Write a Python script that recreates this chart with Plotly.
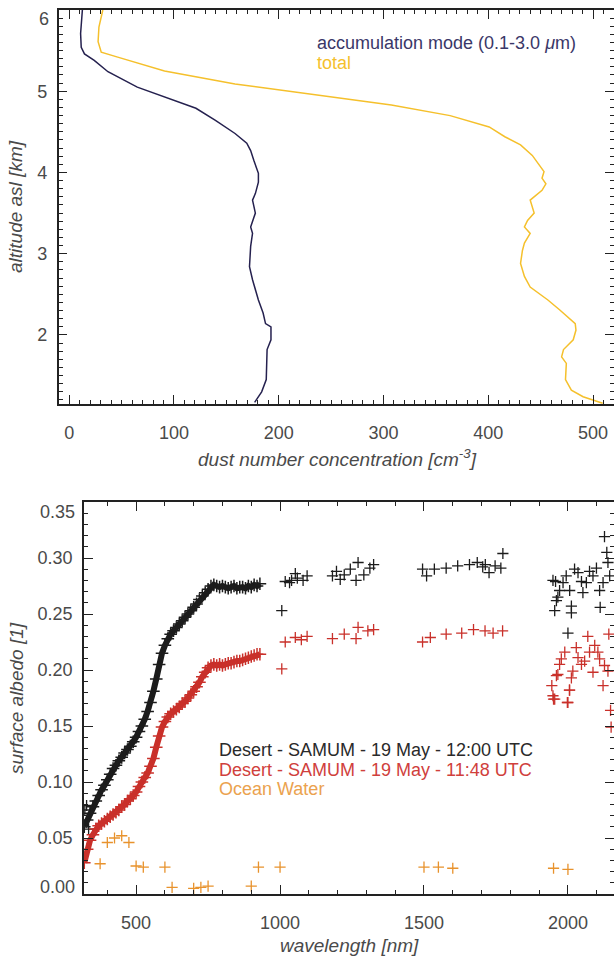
import plotly.graph_objects as go

W, H = 614, 959

# ---------------- top panel data (altitude profile) ----------------
acc_alt = [6.00, 5.71, 5.54, 5.46, 5.38, 5.24, 5.05, 4.93, 4.79, 4.64, 4.48, 4.36, 4.27, 4.15,
           3.99, 3.88, 3.74, 3.66, 3.50, 3.33, 3.25, 3.09, 2.84, 2.68, 2.43, 2.27, 2.14, 2.10,
           1.94, 1.82, 1.45, 1.30, 1.17]
acc_conc = [12.6, 10.9, 11.5, 14.6, 23.9, 37.0, 65.0, 91.0, 121.0, 139.6, 158.3, 169.5, 173.2, 176.2,
            180.6, 180.6, 177.7, 175.0, 177.7, 173.2, 175.0, 173.2, 172.1, 175.0, 180.6, 185.1, 187.4, 192.6,
            192.6, 188.9, 188.1, 183.7, 177.0]

tot_alt = [6.00, 5.79, 5.61, 5.48, 5.42, 5.25, 5.09, 4.96, 4.83, 4.70, 4.56, 4.44, 4.34, 4.21,
           4.01, 3.93, 3.86, 3.78, 3.70, 3.66, 3.50, 3.41, 3.33, 3.25, 3.13, 3.04, 2.88, 2.72,
           2.59, 2.43, 2.31, 2.23, 2.14, 2.06, 1.94, 1.82, 1.73, 1.65, 1.45, 1.32, 1.24, 1.16]
tot_conc = [32.1, 28.4, 27.6, 30.6, 46.3, 91.0, 158.3, 232.9, 307.5, 363.6, 400.9, 415.8, 430.8, 442.0,
            453.2, 451.3, 455.0, 451.3, 443.8, 440.0, 443.8, 437.5, 434.5, 440.0, 434.5, 432.6, 430.8, 434.5,
            440.0, 456.9, 468.0, 475.5, 483.0, 483.7, 481.1, 471.8, 470.0, 474.5, 473.7, 479.3, 490.5, 509.2]

alt_ticks = [2, 3, 4, 5, 6]
alt_ticktext = ["2", "3", "4", "5", ""]   # top label "6" drawn slightly below the edge, as in the original

# ---------------- bottom panel data (surface albedo) ----------------
wl_dense = [320, 330, 340, 350, 360, 370, 380, 390, 400, 410, 420, 430, 440, 450, 460, 470, 480, 490,
            500, 510, 520, 530, 540, 550, 560, 570, 580, 590, 600, 610, 620, 630, 640, 650, 660, 670,
            680, 690, 700, 710, 720, 730, 740, 750, 760, 770, 780, 790, 800, 810, 820, 830, 840, 850,
            860, 870, 880, 890, 900, 910, 920, 930]
desert12_dense = [0.060, 0.066, 0.072, 0.078, 0.083, 0.088, 0.093, 0.097, 0.102, 0.107, 0.112, 0.115,
                  0.119, 0.122, 0.126, 0.129, 0.132, 0.136, 0.140, 0.145, 0.150, 0.156, 0.163, 0.171,
                  0.181, 0.192, 0.205, 0.215, 0.222, 0.228, 0.232, 0.235, 0.238, 0.241, 0.244, 0.247,
                  0.250, 0.253, 0.256, 0.259, 0.263, 0.266, 0.269, 0.272, 0.275, 0.276, 0.275, 0.274,
                  0.275, 0.274, 0.273, 0.274, 0.275, 0.273, 0.274, 0.274, 0.273, 0.275, 0.274, 0.276,
                  0.275, 0.277]
desert1148_dense = [0.028, 0.040, 0.048, 0.053, 0.058, 0.061, 0.063, 0.065, 0.067, 0.069, 0.071, 0.073,
                    0.075, 0.078, 0.080, 0.083, 0.085, 0.088, 0.091, 0.096, 0.100, 0.104, 0.108, 0.114,
                    0.121, 0.131, 0.141, 0.149, 0.154, 0.158, 0.161, 0.163, 0.165, 0.167, 0.170, 0.172,
                    0.175, 0.178, 0.181, 0.185, 0.189, 0.194, 0.198, 0.202, 0.204, 0.205, 0.204, 0.205,
                    0.204, 0.205, 0.206, 0.206, 0.207, 0.208, 0.208, 0.209, 0.210, 0.211, 0.212, 0.213,
                    0.214, 0.214]

wl12_sparse = [322, 328, 335, 1006, 1018, 1033, 1040, 1053, 1060, 1080, 1094, 1182, 1196, 1209, 1223, 1244,
               1264, 1271, 1291, 1312, 1325, 1495, 1509, 1536, 1577, 1617, 1658, 1685, 1704, 1713, 1726,
               1747, 1767, 1774, 1948, 1954, 1957, 1960, 1965, 1971, 1983, 1994, 2000, 2006, 2012, 2012,
               2023, 2035, 2047, 2052, 2064, 2075, 2087, 2099, 2110, 2112, 2122, 2127, 2135, 2139, 2145]
alb12_sparse = [0.075, 0.079, 0.058, 0.253, 0.279, 0.278, 0.280, 0.286, 0.282, 0.280, 0.284, 0.284, 0.288,
                0.281, 0.285, 0.290, 0.280, 0.296, 0.285, 0.291, 0.294, 0.290, 0.284, 0.290, 0.291, 0.293,
                0.294, 0.296, 0.292, 0.294, 0.287, 0.293, 0.291, 0.304, 0.280, 0.253, 0.279, 0.262, 0.265,
                0.271, 0.278, 0.284, 0.233, 0.271, 0.257, 0.251, 0.290, 0.287, 0.279, 0.269, 0.278, 0.288,
                0.284, 0.291, 0.271, 0.256, 0.278, 0.319, 0.305, 0.296, 0.284]

wl1148_sparse = [1006, 1018, 1053, 1074, 1094, 1182, 1223, 1264, 1271, 1305, 1325, 1495, 1522, 1577, 1631,
                 1672, 1712, 1740, 1773, 1944, 1948, 1950, 1954, 1960, 1965, 1971, 1977, 1989, 1998, 2000,
                 2005, 2006, 2012, 2017, 2029, 2035, 2047, 2058, 2069, 2075, 2087, 2093, 2104, 2110, 2122,
                 2127, 2139, 2142, 2148, 2150]
alb1148_sparse = [0.201, 0.225, 0.229, 0.227, 0.230, 0.228, 0.232, 0.228, 0.238, 0.235, 0.236, 0.225, 0.229,
                  0.232, 0.233, 0.236, 0.235, 0.233, 0.235, 0.186, 0.177, 0.174, 0.174, 0.195, 0.196, 0.205,
                  0.210, 0.216, 0.171, 0.171, 0.182, 0.182, 0.193, 0.199, 0.220, 0.211, 0.205, 0.208, 0.230,
                  0.216, 0.198, 0.222, 0.216, 0.210, 0.186, 0.204, 0.199, 0.232, 0.164, 0.149]

wl_ocean = [375, 400, 425, 450, 475, 500, 525, 600, 625, 700, 725, 750, 900, 925, 1000, 1500, 1550, 1600,
            1950, 2000]
alb_ocean = [0.027, 0.046, 0.050, 0.052, 0.046, 0.025, 0.024, 0.024, 0.006, 0.005, 0.006, 0.007, 0.007,
             0.024, 0.024, 0.024, 0.024, 0.023, 0.023, 0.022]

alb_ticks = [0.0, 0.05, 0.10, 0.15, 0.20, 0.25, 0.30, 0.35]
alb_ticktext = ["", "0.05", "0.10", "0.15", "0.20", "0.25", "0.30", ""]  # edge labels drawn inset

# ---------------- styling ----------------
FONT = "Liberation Sans, Arial, Helvetica, sans-serif"
NAVY = "#25214f"
YELLOW = "#f5c02c"
BLACK = "#1c1c1c"
RED = "#c9302a"
ORANGE = "#e8922c"
AX = "#222222"
TXT = "#4a4a4a"


def px(x):
    return x / W


def py(y):
    return 1 - y / H


fig = go.Figure()

fig.add_trace(go.Scatter(x=acc_conc, y=acc_alt, mode="lines", line=dict(color=NAVY, width=1.5),
                         xaxis="x", yaxis="y", showlegend=False))
fig.add_trace(go.Scatter(x=tot_conc, y=tot_alt, mode="lines", line=dict(color=YELLOW, width=1.5),
                         xaxis="x", yaxis="y", showlegend=False))

mk = dict(symbol="cross-thin", size=9)
fig.add_trace(go.Scatter(x=wl_dense, y=desert12_dense, mode="lines+markers",
                         line=dict(color=BLACK, width=6),
                         marker=dict(**mk, line=dict(color=BLACK, width=1.5)),
                         xaxis="x2", yaxis="y2", showlegend=False))
fig.add_trace(go.Scatter(x=wl12_sparse, y=alb12_sparse, mode="markers",
                         marker=dict(symbol="cross-thin", size=8, line=dict(color=BLACK, width=1.3)),
                         xaxis="x2", yaxis="y2", showlegend=False))
fig.add_trace(go.Scatter(x=wl_dense, y=desert1148_dense, mode="lines+markers",
                         line=dict(color=RED, width=6),
                         marker=dict(**mk, line=dict(color=RED, width=1.5)),
                         xaxis="x2", yaxis="y2", showlegend=False))
fig.add_trace(go.Scatter(x=wl1148_sparse, y=alb1148_sparse, mode="markers",
                         marker=dict(symbol="cross-thin", size=8, line=dict(color=RED, width=1.3)),
                         xaxis="x2", yaxis="y2", showlegend=False))
fig.add_trace(go.Scatter(x=wl_ocean, y=alb_ocean, mode="markers",
                         marker=dict(symbol="cross-thin", size=8, line=dict(color=ORANGE, width=1.3)),
                         xaxis="x2", yaxis="y2", showlegend=False))

tickfont = dict(family=FONT, size=18, color=TXT)


def axis(domain, rng, dtick, mdtick, anchor):
    return dict(domain=domain, range=rng, dtick=dtick, tick0=0, anchor=anchor, automargin=False,
                showgrid=False, zeroline=False, showline=True, linecolor=AX, linewidth=1.5,
                mirror="ticks", ticks="inside", ticklen=9, tickwidth=1.3, tickcolor=AX,
                tickfont=tickfont,
                minor=dict(dtick=mdtick, tick0=0, ticks="inside", ticklen=4.5, tickwidth=1.1,
                           tickcolor=AX, showgrid=False))


L1, R1, T1, B1 = 58.7, 614, 10, 404
L2, R2, T2, B2 = 84, 614, 502, 894

yax1 = axis([py(B1), py(T1)], [1.15, 6.0], 1, 0.1, "x")
yax1.update(tickmode="array", tickvals=alt_ticks, ticktext=alt_ticktext, ticklabelstandoff=6)
yax2 = axis([py(B2), py(T2)], [0, 0.35], 0.05, 0.01, "x2")
yax2.update(tickmode="array", tickvals=alb_ticks, ticktext=alb_ticktext, ticklabelstandoff=6)

fig.update_layout(
    template="none",
    width=W, height=H, autosize=False,
    margin=dict(l=0, r=0, t=0, b=0, pad=0),
    paper_bgcolor="white", plot_bgcolor="white",
    font=dict(family=FONT),
    xaxis=dict(axis([px(L1), px(R1)], [-10, 520], 100, 10, "y"), ticklabelstandoff=12),
    yaxis=yax1,
    xaxis2=dict(axis([px(L2), px(R2)], [319, 2160], 500, 100, "y2"), ticklabelstandoff=12),
    yaxis2=yax2,
)

ann = []


def text(x, y, s, color=TXT, size=18, italic=False, angle=0, xanchor="center"):
    if italic:
        s = "<i>" + s + "</i>"
    ann.append(dict(x=px(x), y=py(y), xref="paper", yref="paper", text=s, showarrow=False,
                    font=dict(family=FONT, size=size, color=color), xanchor=xanchor,
                    yanchor="middle", textangle=angle))


# inset edge tick labels
text(51, 19, "6", xanchor="right")
text(77, 512, "0.35", xanchor="right")
text(77, 887, "0.00", xanchor="right")

text(16, 207, "altitude asl [km]", italic=True, angle=-90, size=19)
text(337, 458, "dust number concentration [cm<sup>-3</sup>]", italic=True, size=19)
text(16, 698, "surface albedo [1]", italic=True, angle=-90, size=19)
text(349, 945, "wavelength [nm]", italic=True, size=19)

text(315, 43, "accumulation mode (0.1-3.0 <i>μ</i>m)", color="#3a3768", size=18, xanchor="left")
text(315, 63, "total", color=YELLOW, size=18, xanchor="left")

text(217, 750, "Desert - SAMUM - 19 May - 12:00 UTC", color="#2a2a2a", size=18, xanchor="left")
text(217, 770, "Desert - SAMUM - 19 May - 11:48 UTC", color="#d0403c", size=18, xanchor="left")
text(217, 789, "Ocean Water", color="#eba24e", size=18, xanchor="left")

fig.update_layout(annotations=ann)

fig.write_html("out.html", config={"displayModeBar": False},
               post_script="document.body.style.margin='0';document.body.style.overflow='hidden';")
